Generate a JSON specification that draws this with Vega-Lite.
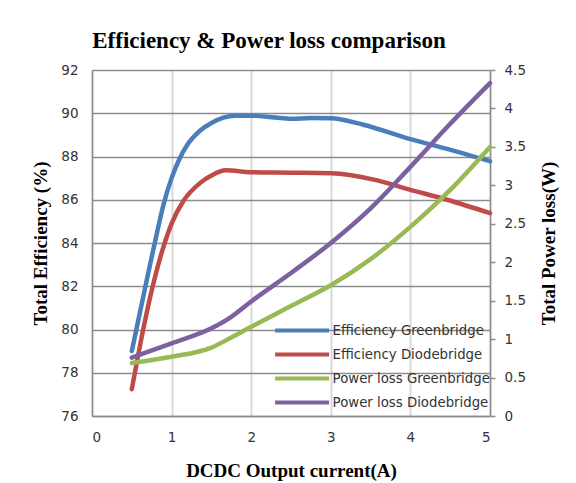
{
  "$schema": "https://vega.github.io/schema/vega-lite/v6.json",
  "width": 398,
  "height": 346,
  "autosize": {"type": "none"},
  "padding": {"left": 92, "top": 70, "right": 86, "bottom": 67},
  "background": "white",
  "title": {
    "text": "Efficiency & Power loss comparison",
    "font": "Liberation Serif",
    "fontSize": 23,
    "fontWeight": "bold",
    "color": "black",
    "anchor": "middle",
    "dx": -22,
    "offset": 10
  },
  "config": {
    "view": {"stroke": null},
    "axis": {
      "labelFont": "DejaVu Sans",
      "labelFontSize": 13.5,
      "labelColor": "#333333",
      "titleFont": "Liberation Serif",
      "titleFontSize": 19,
      "titleFontWeight": "bold",
      "titleColor": "black",
      "domainColor": "#8c8c8c",
      "domainWidth": 1.5
    }
  },
  "datasets": {
    "eff": [
      {"current": 0.5, "efficiency": 79.0, "series": "Efficiency Greenbridge"},
      {"current": 0.6, "efficiency": 80.75, "series": "Efficiency Greenbridge"},
      {"current": 0.7, "efficiency": 82.5, "series": "Efficiency Greenbridge"},
      {"current": 0.8, "efficiency": 84.2, "series": "Efficiency Greenbridge"},
      {"current": 0.9, "efficiency": 85.8, "series": "Efficiency Greenbridge"},
      {"current": 1.0, "efficiency": 87.0, "series": "Efficiency Greenbridge"},
      {"current": 1.1, "efficiency": 87.9, "series": "Efficiency Greenbridge"},
      {"current": 1.2, "efficiency": 88.55, "series": "Efficiency Greenbridge"},
      {"current": 1.36, "efficiency": 89.2, "series": "Efficiency Greenbridge"},
      {"current": 1.5, "efficiency": 89.55, "series": "Efficiency Greenbridge"},
      {"current": 1.65, "efficiency": 89.8, "series": "Efficiency Greenbridge"},
      {"current": 1.8, "efficiency": 89.89, "series": "Efficiency Greenbridge"},
      {"current": 2.0, "efficiency": 89.89, "series": "Efficiency Greenbridge"},
      {"current": 2.3, "efficiency": 89.8, "series": "Efficiency Greenbridge"},
      {"current": 2.5, "efficiency": 89.74, "series": "Efficiency Greenbridge"},
      {"current": 2.75, "efficiency": 89.78, "series": "Efficiency Greenbridge"},
      {"current": 3.0, "efficiency": 89.77, "series": "Efficiency Greenbridge"},
      {"current": 3.41, "efficiency": 89.47, "series": "Efficiency Greenbridge"},
      {"current": 4.0, "efficiency": 88.8, "series": "Efficiency Greenbridge"},
      {"current": 4.46, "efficiency": 88.35, "series": "Efficiency Greenbridge"},
      {"current": 5.0, "efficiency": 87.78, "series": "Efficiency Greenbridge"},
      {"current": 0.5, "efficiency": 77.24, "series": "Efficiency Diodebridge"},
      {"current": 0.6, "efficiency": 79.2, "series": "Efficiency Diodebridge"},
      {"current": 0.75, "efficiency": 81.8, "series": "Efficiency Diodebridge"},
      {"current": 0.9, "efficiency": 83.85, "series": "Efficiency Diodebridge"},
      {"current": 1.0, "efficiency": 84.9, "series": "Efficiency Diodebridge"},
      {"current": 1.15, "efficiency": 85.95, "series": "Efficiency Diodebridge"},
      {"current": 1.36, "efficiency": 86.78, "series": "Efficiency Diodebridge"},
      {"current": 1.5, "efficiency": 87.12, "series": "Efficiency Diodebridge"},
      {"current": 1.68, "efficiency": 87.36, "series": "Efficiency Diodebridge"},
      {"current": 2.0, "efficiency": 87.27, "series": "Efficiency Diodebridge"},
      {"current": 2.5, "efficiency": 87.25, "series": "Efficiency Diodebridge"},
      {"current": 3.0, "efficiency": 87.22, "series": "Efficiency Diodebridge"},
      {"current": 3.54, "efficiency": 86.93, "series": "Efficiency Diodebridge"},
      {"current": 4.0, "efficiency": 86.46, "series": "Efficiency Diodebridge"},
      {"current": 4.46, "efficiency": 86.0, "series": "Efficiency Diodebridge"},
      {"current": 5.0, "efficiency": 85.38, "series": "Efficiency Diodebridge"}
    ],
    "loss": [
      {"current": 0.5, "loss": 0.69, "series": "Power loss Greenbridge"},
      {"current": 1.0, "loss": 0.77, "series": "Power loss Greenbridge"},
      {"current": 1.5, "loss": 0.89, "series": "Power loss Greenbridge"},
      {"current": 1.75, "loss": 1.02, "series": "Power loss Greenbridge"},
      {"current": 2.0, "loss": 1.16, "series": "Power loss Greenbridge"},
      {"current": 2.5, "loss": 1.43, "series": "Power loss Greenbridge"},
      {"current": 3.0, "loss": 1.7, "series": "Power loss Greenbridge"},
      {"current": 3.5, "loss": 2.04, "series": "Power loss Greenbridge"},
      {"current": 4.0, "loss": 2.46, "series": "Power loss Greenbridge"},
      {"current": 4.5, "loss": 2.94, "series": "Power loss Greenbridge"},
      {"current": 5.0, "loss": 3.5, "series": "Power loss Greenbridge"},
      {"current": 0.5, "loss": 0.76, "series": "Power loss Diodebridge"},
      {"current": 1.0, "loss": 0.945, "series": "Power loss Diodebridge"},
      {"current": 1.5, "loss": 1.14, "series": "Power loss Diodebridge"},
      {"current": 1.75, "loss": 1.29, "series": "Power loss Diodebridge"},
      {"current": 2.0, "loss": 1.49, "series": "Power loss Diodebridge"},
      {"current": 2.5, "loss": 1.86, "series": "Power loss Diodebridge"},
      {"current": 3.0, "loss": 2.25, "series": "Power loss Diodebridge"},
      {"current": 3.5, "loss": 2.7, "series": "Power loss Diodebridge"},
      {"current": 4.0, "loss": 3.24, "series": "Power loss Diodebridge"},
      {"current": 4.5, "loss": 3.8, "series": "Power loss Diodebridge"},
      {"current": 5.0, "loss": 4.33, "series": "Power loss Diodebridge"}
    ]
  },
  "layer": [
    {
      "data": {"name": "eff"},
      "mark": {"type": "line", "interpolate": "monotone", "strokeWidth": 4.5, "strokeCap": "round"},
      "encoding": {
        "x": {
          "field": "current",
          "type": "quantitative",
          "scale": {"domain": [0, 5]},
          "axis": {
            "values": [0, 1, 2, 3, 4, 5],
            "format": "~g",
            "grid": true,
            "gridColor": "#d9d9d9",
            "gridWidth": 2,
            "ticks": false,
            "labelPadding": 14,
            "title": "DCDC Output current(A)",
            "titlePadding": 18
          }
        },
        "y": {
          "field": "efficiency",
          "type": "quantitative",
          "scale": {"domain": [76, 92]},
          "axis": {
            "orient": "left",
            "values": [76, 78, 80, 82, 84, 86, 88, 90, 92],
            "grid": true,
            "gridColor": "#8c8c8c",
            "gridWidth": 1.5,
            "ticks": false,
            "labelPadding": 14,
            "title": "Total Efficiency (%)",
            "titlePadding": 10
          }
        },
        "color": {
          "field": "series",
          "type": "nominal",
          "scale": {
            "domain": ["Efficiency Greenbridge", "Efficiency Diodebridge", "Power loss Greenbridge", "Power loss Diodebridge"],
            "range": ["#4a7ebb", "#be4b48", "#98b954", "#7d60a0"]
          },
          "legend": {
            "orient": "none",
            "legendX": 202.6,
            "legendY": 253,
            "title": null,
            "padding": 0,
            "symbolType": "M-5,0H5",
            "symbolSize": 116.6,
            "symbolStrokeWidth": 4,
            "rowPadding": 7,
            "labelFont": "DejaVu Sans",
            "labelFontSize": 13.3,
            "labelColor": "#333333",
            "labelOffset": 23,
            "labelLimit": 300
          }
        }
      }
    },
    {
      "data": {"name": "loss"},
      "mark": {"type": "line", "interpolate": "monotone", "strokeWidth": 4.5, "strokeCap": "round"},
      "encoding": {
        "x": {"field": "current", "type": "quantitative", "scale": {"domain": [0, 5]}},
        "y": {
          "field": "loss",
          "type": "quantitative",
          "scale": {"domain": [0, 4.5]},
          "axis": {
            "orient": "right",
            "values": [0, 0.5, 1, 1.5, 2, 2.5, 3, 3.5, 4, 4.5],
            "format": "~g",
            "grid": false,
            "ticks": true,
            "tickSize": 5,
            "tickColor": "#8c8c8c",
            "tickWidth": 1.5,
            "labelPadding": 9,
            "title": "Total Power loss(W)",
            "titleAngle": 270,
            "titlePadding": 33
          }
        },
        "color": {
          "field": "series",
          "type": "nominal",
          "scale": {
            "domain": ["Efficiency Greenbridge", "Efficiency Diodebridge", "Power loss Greenbridge", "Power loss Diodebridge"],
            "range": ["#4a7ebb", "#be4b48", "#98b954", "#7d60a0"]
          }
        }
      }
    }
  ],
  "resolve": {"scale": {"y": "independent"}, "axis": {"y": "independent"}}
}
